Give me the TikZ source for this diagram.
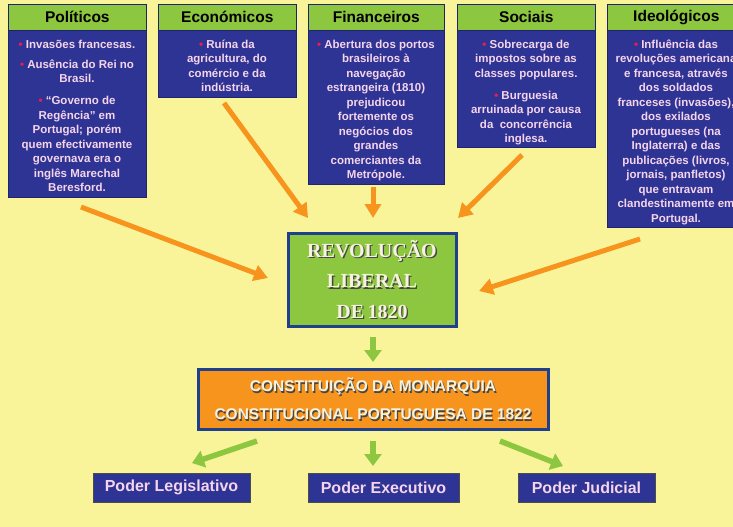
\documentclass[tikz,border=0pt]{standalone}
\usepackage{fontspec}
\setmainfont{Liberation Sans}
\newfontfamily\revfont{Liberation Serif}
\usetikzlibrary{arrows.meta}
\definecolor{bgy}{RGB}{249,244,154}
\definecolor{hdrgreen}{RGB}{141,198,63}
\definecolor{boxblue}{RGB}{45,52,148}
\definecolor{bodyline}{RGB}{30,36,110}
\definecolor{pinktxt}{RGB}{246,212,236}
\definecolor{bulred}{RGB}{237,28,80}
\definecolor{arrorange}{RGB}{247,148,29}
\definecolor{arrgreen}{RGB}{141,198,63}
\definecolor{revborder}{RGB}{31,64,140}
\definecolor{cream}{RGB}{246,242,222}
\definecolor{shadowc}{RGB}{70,70,70}
\newcommand\mybul{\rule{0pt}{9pt}{\color{bulred}\textbullet}\ }
\begin{document}
\begin{tikzpicture}[x=1pt,y=-1pt,
  hdr/.style={draw=bodyline, line width=0.6pt, fill=hdrgreen, minimum height=26pt, inner sep=0pt, anchor=north west, font=\fontsize{15.5pt}{18pt}\selectfont\bfseries, text=black},
  bodybox/.style={draw=bodyline, line width=0.6pt, fill=boxblue, inner sep=0pt, anchor=north west},
  txt/.style={anchor=north, align=center, inner sep=0pt, text=pinktxt, font=\fontsize{11.5pt}{14.5pt}\selectfont\bfseries},
  oarrow/.style={draw=arrorange, line width=5pt, -{Triangle[length=14pt,width=16pt]}},
  garrow/.style={draw=arrgreen, line width=5.5pt, -{Triangle[length=12pt,width=17pt]}},
  revbox/.style={draw=revborder, line width=3pt, fill=hdrgreen, minimum width=168pt, minimum height=93pt, inner sep=0pt},
  revtxt/.style={align=center, inner sep=0pt, font=\revfont\bfseries\fontsize{20pt}{30.5pt}\selectfont},
  constbox/.style={draw=revborder, line width=3pt, fill=arrorange, minimum width=350pt, minimum height=60pt, inner sep=0pt},
  consttxt/.style={align=center, inner sep=0pt, font=\bfseries\fontsize{15.5pt}{28pt}\selectfont},
  poder/.style={draw=black!70, line width=0.8pt, fill=boxblue, minimum height=29pt, inner sep=0pt, text=pinktxt, font=\bfseries\fontsize{16pt}{18pt}\selectfont}
]
\useasboundingbox (0,0) rectangle (733,527);
\fill[bgy] (0,0) rectangle (733,527);
\begin{scope}
\clip (0,0) rectangle (733,527);

% Category boxes
\node[bodybox, minimum width=138pt, minimum height=167pt] (polB) at (8,30) {};
\node[hdr, minimum width=138pt] (polH) at (8,4) {Políticos};
\node[txt] (polT) at (77,39) {\mybul Invasões francesas.\\[5.5pt]
\mybul Ausência do Rei no\\ Brasil.\\[7.5pt]
\mybul “Governo de\\ Regência” em\\ Portugal; porém\\ quem efectivamente\\ governava era o\\ inglês Marechal\\ Beresford.};

\node[bodybox, minimum width=138pt, minimum height=67pt] (ecoB) at (158,30) {};
\node[hdr, minimum width=138pt] (ecoH) at (158,4) {Económicos};
\node[txt] (ecoT) at (227,39) {\mybul Ruína da\\ agricultura, do\\ comércio e da\\ indústria.};

\node[bodybox, minimum width=136pt, minimum height=154pt] (finB) at (308,30) {};
\node[hdr, minimum width=136pt] (finH) at (308,4) {Financeiros};
\node[txt] (finT) at (376,39) {\mybul Abertura dos portos\\ brasileiros à\\ navegação\\ estrangeira (1810)\\ prejudicou\\ fortemente os\\ negócios dos\\ grandes\\ comerciantes da\\ Metrópole.};

\node[bodybox, minimum width=138pt, minimum height=117pt] (socB) at (457,30) {};
\node[hdr, minimum width=138pt] (socH) at (457,4) {Sociais};
\node[txt] (socT) at (526,39) {\mybul Sobrecarga de\\ impostos sobre as\\ classes populares.\\[7.5pt]
\mybul Burguesia\\ arruinada por causa\\ da\ \ concorrência\\ inglesa.};

\node[bodybox, minimum width=138pt, minimum height=197pt] (ideB) at (607,30) {};
\node[hdr, minimum width=138pt] (ideH) at (607,4) {Ideológicos};
\node[txt] (ideT) at (676,39) {\mybul Influência das\\ revoluções americana\\ e francesa, através\\ dos soldados\\ franceses (invasões),\\ dos exilados\\ portugueses (na\\ Inglaterra) e das\\ publicações (livros,\\ jornais, panfletos)\\ que entravam\\ clandestinamente em\\ Portugal.};

% Revolução
\node[revbox] (rev) at (372,279.5) {};
\node[revtxt, text=shadowc] (revS) at ([shift={(1.3,1.3)}]rev.center) {REVOLUÇÃO\\ LIBERAL\\ DE\,1820};
\node[revtxt, text=cream] (revT) at (rev.center) {REVOLUÇÃO\\ LIBERAL\\ DE\,1820};

% Constituição
\node[constbox] (con) at (373,399) {};
\node[consttxt, text=shadowc] (conS) at ([shift={(1.2,1.2)}]con.center) {CONSTITUIÇÃO DA MONARQUIA\\ CONSTITUCIONAL PORTUGUESA DE 1822};
\node[consttxt, text=cream] (conT) at (con.center) {CONSTITUIÇÃO DA MONARQUIA\\ CONSTITUCIONAL PORTUGUESA DE 1822};

% Poderes
\node[poder, minimum width=157pt] (leg) at (171.5,487.5) {Poder Legislativo};
\node[poder, minimum width=151pt] (exe) at (383.5,487.5) {Poder Executivo};
\node[poder, minimum width=137pt] (jud) at (586.5,487.5) {Poder Judicial};

% Arrow end points
\coordinate (a1s) at (81,207);  \coordinate (a1e) at (268,278);
\coordinate (a2s) at (224,103); \coordinate (a2e) at (308,218);
\coordinate (a3s) at (373,187); \coordinate (a3e) at (373,218);
\coordinate (a4s) at (522,155); \coordinate (a4e) at (458,218);
\coordinate (a5s) at (640,239); \coordinate (a5e) at (479,291);
\coordinate (g1s) at (373,337); \coordinate (g1e) at (373,362);
\coordinate (g2s) at (257,441); \coordinate (g2e) at (192,463);
\coordinate (g3s) at (373,441); \coordinate (g3e) at (373,466);
\coordinate (g4s) at (500,441); \coordinate (g4e) at (563,466);

\draw[oarrow] (a1s) -- (a1e);
\draw[oarrow] (a2s) -- (a2e);
\draw[oarrow] (a3s) -- (a3e);
\draw[oarrow] (a4s) -- (a4e);
\draw[oarrow] (a5s) -- (a5e);
\draw[garrow] (g1s) -- (g1e);
\draw[garrow] (g2s) -- (g2e);
\draw[garrow] (g3s) -- (g3e);
\draw[garrow] (g4s) -- (g4e);
\end{scope}
\end{tikzpicture}
\end{document}
